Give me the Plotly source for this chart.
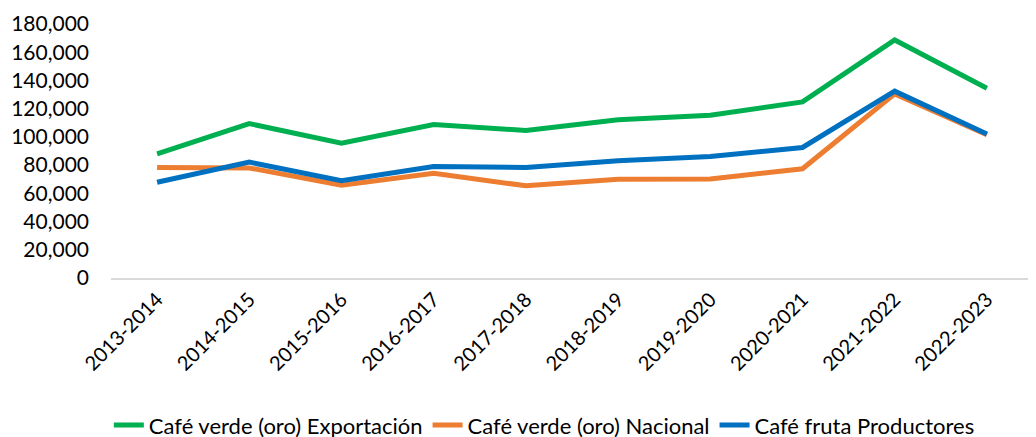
import plotly.graph_objects as go

campanias = ["2013-2014", "2014-2015", "2015-2016", "2016-2017", "2017-2018",
             "2018-2019", "2019-2020", "2020-2021", "2021-2022", "2022-2023"]

exportacion = [88000, 109400, 95600, 108700, 104600, 112200, 115300, 124800, 168700, 134500]
nacional = [78300, 78000, 65800, 74300, 65300, 70000, 70200, 77400, 130500, 101500]
productores = [67900, 82100, 69000, 79000, 78300, 83100, 86100, 92500, 132400, 102000]

series = [
    ("Café verde (oro) Exportación", exportacion, "#00B050"),
    ("Café verde (oro) Nacional", nacional, "#ED7D31"),
    ("Café fruta Productores", productores, "#0070C0"),
]

fig = go.Figure()
for name, values, color in series:
    fig.add_trace(go.Scatter(
        x=campanias, y=values, name=name, mode="lines",
        line=dict(color=color, width=5),
    ))

# the page adds an 8px body margin, so the layout is shifted up/left by 8px
fig.update_layout(
    width=1036,
    height=437,
    margin=dict(l=103, r=11, t=16, b=167, autoexpand=False),
    paper_bgcolor="white",
    plot_bgcolor="white",
    font=dict(family="Lato, Carlito, sans-serif", size=20, color="black"),
    xaxis=dict(
        range=[-0.5, 9.5],
        tickangle=-45,
        showgrid=False,
        showline=True,
        linecolor="#d9d9d9",
        linewidth=2,
        ticks="",
        tickfont=dict(size=20),
    ),
    yaxis=dict(
        range=[0, 180000],
        dtick=20000,
        tickformat=",",
        showgrid=False,
        zeroline=False,
        ticks="",
        ticklabelstandoff=21,
        tickfont=dict(size=21),
    ),
    legend=dict(
        orientation="h",
        x=0.47,
        xanchor="center",
        y=-0.58,
        yanchor="middle",
        font=dict(size=22),
    ),
)

fig.write_html("out.html")
